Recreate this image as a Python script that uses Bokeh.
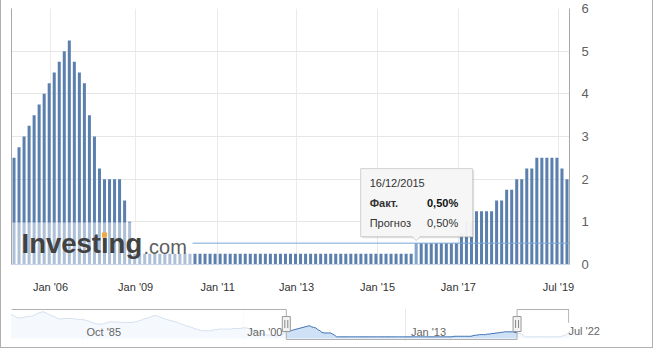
from bokeh.plotting import figure
from bokeh.layouts import column
from bokeh.models import Range1d, LinearAxis, FixedTicker, ColumnDataSource, Grid
from bokeh.core.properties import value
from bokeh.embed import file_html
from bokeh.resources import INLINE

# ---------------- data ----------------
rate_values = [
    2.5, 2.75, 3.0, 3.25, 3.5, 3.75, 4.0, 4.25, 4.5, 4.75, 5.0, 5.25,
    4.75, 4.5, 4.25, 3.5, 3.0, 2.25, 2.0, 2.0, 2.0, 2.0, 1.5, 1.0,
    0.25, 0.25, 0.25, 0.25, 0.25, 0.25, 0.25, 0.25, 0.25, 0.25, 0.25, 0.25, 0.25, 0.25,
    0.25, 0.25, 0.25, 0.25, 0.25, 0.25, 0.25, 0.25, 0.25, 0.25, 0.25, 0.25, 0.25, 0.25,
    0.25, 0.25, 0.25, 0.25, 0.25, 0.25, 0.25, 0.25, 0.25, 0.25, 0.25, 0.25, 0.25, 0.25,
    0.25, 0.25, 0.25, 0.25, 0.25, 0.25, 0.25, 0.25, 0.25, 0.25, 0.25, 0.25, 0.25, 0.25,
    0.5, 0.5, 0.5, 0.5, 0.5, 0.5, 0.5, 0.5, 0.5,
    0.75, 1.0, 1.0,
    1.25, 1.25, 1.25, 1.25, 1.5, 1.5, 1.75, 1.75, 2.0, 2.0, 2.25, 2.25,
    2.5, 2.5, 2.5, 2.5, 2.5, 2.25, 2.0,
]
x_tick_positions = [7.75, 24.7, 41.0, 56.7, 72.8, 88.9, 108.8]
x_tick_labels = ["Jan '06", "Jan '09", "Jan '11", "Jan '13", "Jan '15", "Jan '17", "Jul '19"]
y_ticks = [0, 1, 2, 3, 4, 5, 6]

hover_index = 80
tooltip_date = "16/12/2015"
tooltip_rows = ["Факт.", "Прогноз"]
tooltip_vals = ["0,50%", "0,50%"]

nav_before = [
    10.25, 9.75, 9.25, 8.75,
    8.75, 8.75, 9.0, 9.25, 9.5, 9.5,
    9.5, 10.0, 10.5, 11.0,
    11.25, 11.5, 11.25,
    10.75, 10.25, 9.75,
    9.5, 9.0, 8.5,
    8.25, 8.25, 8.5, 8.5, 8.5,
    8.5, 8.5, 8.25, 8.25, 8.0, 8.0,
    8.0, 7.75, 7.5, 7.25, 6.75, 6.5, 6.25, 6.0,
    6.0, 5.9, 6.25, 6.5, 6.75,
    7.0, 7.0, 6.9, 6.9, 6.8, 6.75, 6.75, 6.7, 6.7, 6.7, 6.7,
    6.75, 7.0, 7.25, 7.5, 7.75, 8.25, 8.5, 8.75, 9.0, 9.5, 9.75,
    9.8,
    9.5, 9.0, 8.75, 8.25, 8.0, 7.75,
    7.5, 7.25, 7.0, 6.75, 6.25, 6.0, 5.75, 5.25, 5.0, 4.75, 4.5, 4.0, 3.75, 3.5, 3.25, 3.0,
    3.0, 3.0, 3.0, 3.0, 3.25, 3.5, 3.5, 3.75,
    3.75, 3.75, 3.75, 3.75, 3.75, 3.75, 4.0, 4.0, 4.0, 4.0, 4.25, 4.25,
    4.25, 4.0, 3.5, 3.0, 2.75, 2.25, 2.0, 1.75,
    1.5, 1.25, 1.0, 1.0, 1.0, 0.75, 0.75, 0.75, 1.0, 1.25, 2.0,
]
nav_after = [
    1.75, 1.5, 1.0, 0.25,
    0.25, 0.25, 0.25, 0.25, 0.25, 0.25, 0.25, 0.25,
    0.25, 0.25, 0.25, 0.25, 0.25, 0.25, 0.25, 0.25,
    0.5, 0.75, 1.0, 1.75, 2.5,
]
nav_grid_positions = [33.8, 110.5, 187.6]
nav_label_positions = [44.0, 120.8, 198.8]
nav_tick_labels = ["Oct '85", "Jan '00", "Jan '13"]
nav_end_label = "Jul '22"

# ---------------- styles ----------------
FONT = "Liberation Sans"
BAR = "#5b80ae"
BAR_HI = "#80a4cd"

N = len(rate_values)
PX = 558.0 / N          # px per x unit (main)
PY = 256.0 / 6.0        # px per y unit (main)

main = figure(width=651, height=295, x_range=Range1d(0, N), y_range=Range1d(0, 6),
              y_axis_location="right", output_backend="svg", toolbar_location=None,
              min_border_left=10, min_border_right=83, min_border_top=8, min_border_bottom=31,
              outline_line_color=None, background_fill_color="white", border_fill_color="white")

xs = [i + 0.5 for i in range(N)]
colors = [BAR_HI if i == hover_index else BAR for i in range(N)]
src = ColumnDataSource(dict(x=xs, top=rate_values, color=colors))
main.vbar(x="x", top="top", width=0.6, fill_color="color", line_color=None, source=src)

# axes
main.xaxis.ticker = FixedTicker(ticks=x_tick_positions)
main.xaxis.major_label_overrides = {t: l for t, l in zip(x_tick_positions, x_tick_labels)}
main.xaxis.axis_line_color = "#ccd6eb"
main.xaxis.major_tick_line_color = None
main.xaxis.minor_tick_line_color = None
main.xaxis.major_label_text_font = FONT
main.xaxis.major_label_text_font_size = "11px"
main.xaxis.major_label_text_color = "#333333"
main.xaxis.major_label_standoff = 10

main.yaxis.ticker = FixedTicker(ticks=y_ticks)
main.yaxis.axis_line_color = "#a8a8a8"
main.yaxis.major_tick_line_color = None
main.yaxis.minor_tick_line_color = None
main.yaxis.major_label_text_font = FONT
main.yaxis.major_label_text_font_size = "13px"
main.yaxis.major_label_text_color = "#606060"
main.yaxis.major_label_standoff = 6

main.xgrid.grid_line_color = "#ebebeb"
main.ygrid.grid_line_color = "#e6e6e6"

left_line = LinearAxis(ticker=FixedTicker(ticks=[]), axis_line_color="#a8a8a8",
                       major_tick_line_color=None, minor_tick_line_color=None)
main.add_layout(left_line, "left")

# watermark overlay
OVERLAY_RIGHT = 36.0
OVERLAY_TOP = 0.985
hx = hover_index + 0.5
hv = rate_values[hover_index]
main.segment(x0=[OVERLAY_RIGHT], x1=[N], y0=[hv], y1=[hv], line_color="#79a6d6", line_width=1)
main.quad(left=[0], right=[OVERLAY_RIGHT], bottom=[0], top=[OVERLAY_TOP],
          fill_color="white", fill_alpha=0.5, line_color=None)
main.text(x=[10 / PX], y=[21 / PY], text=["Investing"], text_font=value(FONT),
          text_font_size="27.5px", text_font_style=value("bold"), text_color="#424242",
          text_align="left", text_baseline="middle")
main.text(x=[132 / PX], y=[18 / PY], text=[".com"], text_font=value(FONT),
          text_font_size="20px", text_color="#5e5e5e",
          text_align="left", text_baseline="middle")
main.quad(left=[90.5 / PX], right=[95.5 / PX], bottom=[27 / PY], top=[32 / PY],
          fill_color="#f2a93b", line_color=None)

# tooltip
b_left = hx - 55.5 / PX
b_right = hx + 56.5 / PX
b_bottom = hv + 6.5 / PY
b_top = b_bottom + 68 / PY
tip = hv + 2.5 / PY
main.quad(left=[b_left + 1.5 / PX], right=[b_right + 1.5 / PX], bottom=[b_bottom - 1.5 / PY],
          top=[b_top - 1.5 / PY], fill_color="black", fill_alpha=0.12, line_color=None)
main.quad(left=[b_left], right=[b_right], bottom=[b_bottom], top=[b_top],
          fill_color="#f7f7f7", fill_alpha=0.96, line_color="#d0d0d0", line_width=1)
main.patch(x=[hx - 4 / PX, hx, hx + 4 / PX], y=[b_bottom + 0.6 / PY, tip, b_bottom + 0.6 / PY],
           fill_color="#f7f7f7", line_color=None)
main.multi_line(xs=[[hx - 4 / PX, hx, hx + 4 / PX]], ys=[[b_bottom, tip, b_bottom]],
                line_color="#d0d0d0", line_width=1)
tx_left = b_left + 9 / PX
tx_right = b_right - 14.5 / PX
main.text(x=[tx_left], y=[b_top - 14 / PY], text=[tooltip_date], text_font=value(FONT),
          text_font_size="11px", text_color="#333333", text_baseline="middle", text_align="left")
main.text(x=[tx_left], y=[b_top - 34 / PY], text=[tooltip_rows[0]], text_font=value(FONT),
          text_font_size="11px", text_font_style=value("bold"), text_color="#333333",
          text_baseline="middle", text_align="left")
main.text(x=[tx_right], y=[b_top - 34 / PY], text=[tooltip_vals[0]], text_font=value(FONT),
          text_font_size="11px", text_font_style=value("bold"), text_color="#111111",
          text_baseline="middle", text_align="right")
main.text(x=[tx_left], y=[b_top - 54 / PY], text=[tooltip_rows[1]], text_font=value(FONT),
          text_font_size="11px", text_color="#333333", text_baseline="middle", text_align="left")
main.text(x=[tx_right], y=[b_top - 54 / PY], text=[tooltip_vals[1]], text_font=value(FONT),
          text_font_size="11px", text_color="#333333", text_baseline="middle", text_align="right")

# ---------------- navigator ----------------
nav_values = nav_before + rate_values + nav_after
M = len(nav_values)
s0 = len(nav_before)
s1 = s0 + N - 1
NAV_Y0, NAV_Y1 = -1.84, 12.96
NAV_TOP, NAV_BOT, NAV_BASE = 12.5, -0.94, -0.5
NAV_LABEL_Y = 2.65

nav = figure(width=651, height=52, x_range=Range1d(0, M - 1), y_range=Range1d(NAV_Y0, NAV_Y1),
             y_axis_location=None, output_backend="svg", toolbar_location=None,
             min_border_left=10, min_border_right=83, min_border_top=13, min_border_bottom=6,
             outline_line_color=None, background_fill_color="white", border_fill_color="white")
nav.xgrid.grid_line_color = None
nav.ygrid.grid_line_color = None
nav.add_layout(Grid(dimension=0, ticker=FixedTicker(ticks=nav_grid_positions),
                    grid_line_color="#e8e8e8"))
nidx = list(range(M))
nav.varea(x=nidx, y1=[NAV_BASE] * M, y2=nav_values, fill_color="#cfe1f7")
nav.line(x=nidx, y=nav_values, line_color="#3e70b2", line_width=1)
nav.quad(left=[0, s1], right=[s0, M - 1], bottom=[NAV_Y0] * 2, top=[NAV_Y1] * 2,
         fill_color="white", fill_alpha=0.78, line_color=None)
nav.line(x=[0, s0, s0, s1, s1, M - 1.2], y=[NAV_TOP, NAV_TOP, NAV_BOT, NAV_BOT, NAV_TOP, NAV_TOP],
         line_color="#b0b0b0", line_width=1)
nav.segment(x0=[M - 1.4], x1=[M - 1.4], y0=[NAV_TOP], y1=[6.5], line_color="#b0b0b0", line_width=1)
nav.rect(x=[s0, s1], y=[6.0, 6.0], width=8, height=15, width_units="screen", height_units="screen",
         fill_color="#f2f2f2", line_color="#999999")
nav.segment(x0=[s0 - 0.7, s0 + 0.7, s1 - 0.7, s1 + 0.7], x1=[s0 - 0.7, s0 + 0.7, s1 - 0.7, s1 + 0.7],
            y0=[4.2] * 4, y1=[7.8] * 4, line_color="#888888", line_width=1)

nav.xaxis.ticker = FixedTicker(ticks=nav_label_positions)
nav.xaxis.major_label_overrides = {t: l for t, l in zip(nav_label_positions, nav_tick_labels)}
nav.xaxis.axis_line_color = None
nav.xaxis.major_tick_line_color = None
nav.xaxis.minor_tick_line_color = None
nav.xaxis.major_label_text_font = FONT
nav.xaxis.major_label_text_font_size = "11px"
nav.xaxis.major_label_text_color = "#666666"
nav.xaxis.major_label_standoff = -22

end_axis = LinearAxis(ticker=FixedTicker(ticks=[NAV_LABEL_Y]),
                      major_label_overrides={NAV_LABEL_Y: nav_end_label},
                      axis_line_color=None, major_tick_line_color=None, minor_tick_line_color=None,
                      major_label_text_font=FONT, major_label_text_font_size="11px",
                      major_label_text_color="#666666", major_label_standoff=-7)
nav.add_layout(end_axis, "right")

layout = column(main, nav, styles={"border-left": "1px solid #b0b0b0",
                                   "border-right": "1px solid #b0b0b0",
                                   "border-bottom": "1px solid #b0b0b0"})

open("out.html", "w").write(file_html(layout, INLINE))
